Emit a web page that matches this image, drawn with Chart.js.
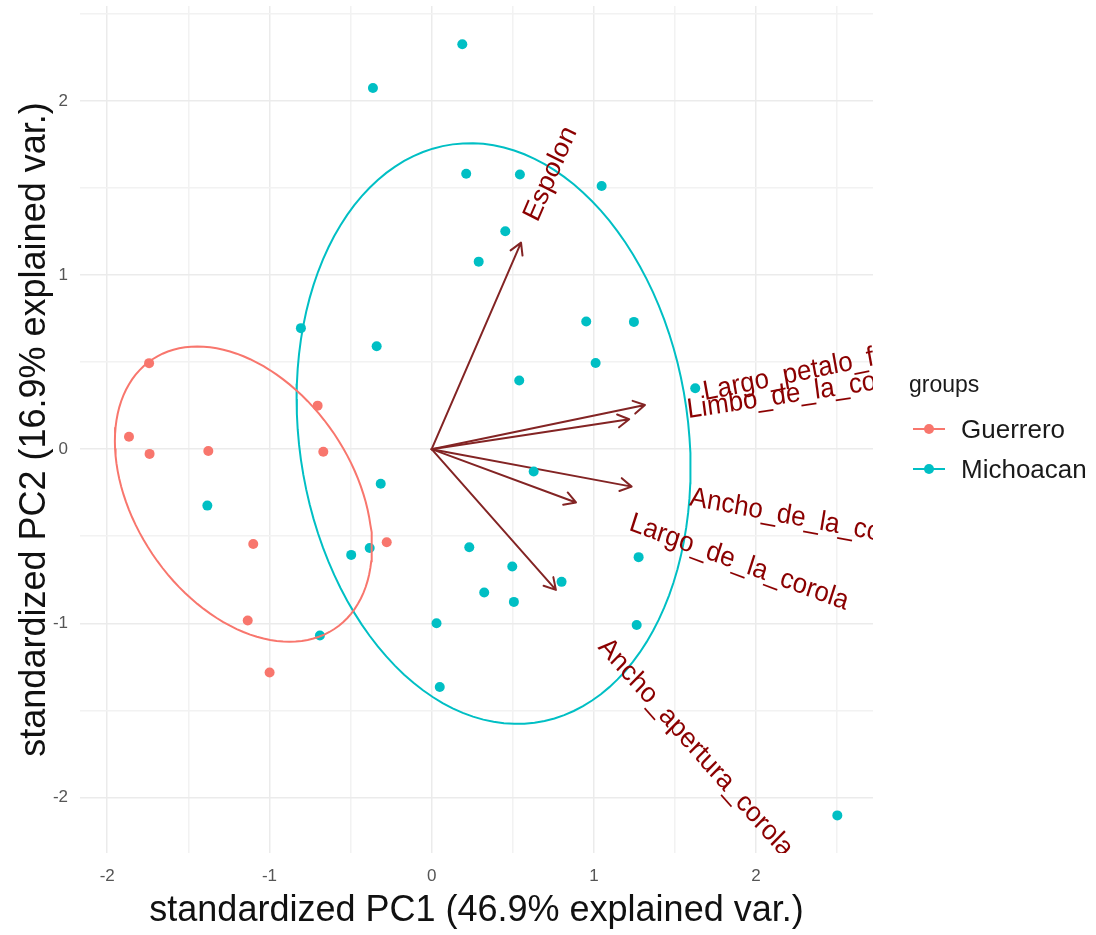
<!DOCTYPE html>
<html>
<head>
  <meta charset="UTF-8" />
  <title>PCA biplot</title>
  <style>
    html, body { margin: 0; padding: 0; background: #fff; }
    #wrap { width: 1096px; height: 935px; }
  </style>
</head>
<body>
  <div id="wrap"><canvas id="biplot"></canvas></div>
  <script src="https://cdn.jsdelivr.net/npm/chart.js"></script>
  <script>
    // scores on the first two standardized components
    const guerreroX = [-1.742, -1.866, -1.739, -1.377, -0.703, -0.668, -1.100, -0.277, -1.134, -0.999];
    const guerreroY = [0.494, 0.071, -0.027, -0.010, 0.250, -0.015, -0.545, -0.534, -0.984, -1.282];

    const michoacanX = [-0.806, -0.339, -0.314, -1.383, -0.496, -0.382, -0.689, 0.030, 0.050, 0.189,
                        -0.362, 0.213, 0.544, 1.048, 0.454, 0.290, 0.953, 1.247, 1.011, 0.540,
                        1.625, 0.629, 0.232, 0.497, 0.324, 0.507, 0.801, 1.276, 1.264, 2.501];
    const michoacanY = [0.695, 0.591, -0.199, -0.324, -0.607, -0.568, -1.070, -1.000, -1.366, 2.325,
                        2.074, 1.582, 1.577, 1.511, 1.251, 1.077, 0.733, 0.731, 0.495, 0.394,
                        0.350, -0.128, -0.563, -0.674, -0.823, -0.877, -0.762, -0.620, -1.010, -2.103];

    // variable loadings (arrow tips)
    const varNames = ['Espolon', 'Largo_petalo_frontal', 'Limbo_de_la_corola', 'Ancho_de_la_corola', 'Largo_de_la_corola', 'Ancho_apertura_corola'];
    const varX = [0.551, 1.315, 1.218, 1.233, 0.890, 0.766];
    const varY = [1.186, 0.254, 0.172, -0.215, -0.306, -0.808];

    const groupNames = ['Guerrero', 'Michoacan'];
    const groupColors = ['#F8766D', '#00BFC4'];

    const FONT = '"Liberation Sans", Arial, sans-serif';

    const toPoints = (xs, ys) => xs.map((x, i) => ({ x: x, y: ys[i] }));

    // normal data ellipse (68%) from the group's covariance, like ggbiplot does
    function dataEllipse(xs, ys) {
      const n = xs.length;
      const mx = xs.reduce((a, b) => a + b, 0) / n;
      const my = ys.reduce((a, b) => a + b, 0) / n;
      let sxx = 0, syy = 0, sxy = 0;
      for (let i = 0; i < n; i++) {
        sxx += (xs[i] - mx) ** 2;
        syy += (ys[i] - my) ** 2;
        sxy += (xs[i] - mx) * (ys[i] - my);
      }
      sxx /= n - 1; syy /= n - 1; sxy /= n - 1;
      const a = Math.sqrt(sxx), b = sxy / a, c = Math.sqrt(syy - b * b);
      const ed = Math.sqrt(-2 * Math.log(1 - 0.68));
      const pts = [];
      for (let k = 0; k <= 120; k++) {
        const t = -Math.PI + 2 * Math.PI * k / 120;
        pts.push({ x: mx + ed * a * Math.cos(t), y: my + ed * (b * Math.cos(t) + c * Math.sin(t)) });
      }
      return pts;
    }

    const arrowsPlugin = {
      id: 'arrows',
      beforeDatasetsDraw(chart) {
        const { ctx, scales: { x, y } } = chart;
        const x0 = x.getPixelForValue(0), y0 = y.getPixelForValue(0);
        ctx.save();
        ctx.strokeStyle = '#832424';
        ctx.lineWidth = 2;
        ctx.lineCap = 'round';
        ctx.lineJoin = 'round';
        varNames.forEach((name, i) => {
          const x1 = x.getPixelForValue(varX[i]), y1 = y.getPixelForValue(varY[i]);
          const ang = Math.atan2(y1 - y0, x1 - x0);
          const head = 13, spread = Math.PI / 6;
          ctx.beginPath();
          ctx.moveTo(x0, y0);
          ctx.lineTo(x1, y1);
          ctx.moveTo(x1 - head * Math.cos(ang - spread), y1 - head * Math.sin(ang - spread));
          ctx.lineTo(x1, y1);
          ctx.lineTo(x1 - head * Math.cos(ang + spread), y1 - head * Math.sin(ang + spread));
          ctx.stroke();
        });
        ctx.restore();
      },
      afterDatasetsDraw(chart) {
        const { ctx, chartArea, scales: { x, y } } = chart;
        const kx = x.getPixelForValue(1) - x.getPixelForValue(0);
        const ky = y.getPixelForValue(0) - y.getPixelForValue(1);
        const sy = ky / kx;
        ctx.save();
        ctx.beginPath();
        ctx.rect(chartArea.left, chartArea.top, chartArea.right - chartArea.left, chartArea.bottom - chartArea.top);
        ctx.clip();
        ctx.fillStyle = '#8B0000';
        ctx.font = '26px ' + FONT;
        ctx.textBaseline = 'middle';
        varNames.forEach((name, i) => {
          const w = ctx.measureText(name).width;
          const theta = Math.atan(varY[i] / varX[i]);
          const hj = (1 - 1.5 * Math.sign(varX[i])) / 2;
          ctx.save();
          ctx.translate(x.getPixelForValue(varX[i]), y.getPixelForValue(varY[i]));
          ctx.scale(1, sy);
          ctx.rotate(-theta);
          ctx.textAlign = 'left';
          ctx.fillText(name, -hj * w, 0);
          ctx.restore();
        });
        ctx.restore();
      },
      afterDraw(chart) {
        const ctx = chart.ctx;
        ctx.save();
        ctx.fillStyle = '#1a1a1a';
        ctx.textBaseline = 'middle';
        ctx.textAlign = 'left';
        ctx.font = '23px ' + FONT;
        ctx.fillText('groups', 909, 386);
        ctx.font = '26px ' + FONT;
        groupNames.forEach((g, i) => {
          const cy = 429 + i * 40;
          ctx.strokeStyle = groupColors[i];
          ctx.lineWidth = 2;
          ctx.beginPath();
          ctx.moveTo(913, cy);
          ctx.lineTo(945, cy);
          ctx.stroke();
          ctx.fillStyle = groupColors[i];
          ctx.beginPath();
          ctx.arc(929, cy, 5, 0, Math.PI * 2);
          ctx.fill();
          ctx.fillStyle = '#1a1a1a';
          ctx.fillText(g, 961, cy + 2);
        });
        ctx.restore();
      }
    };

    const gridColor = ctx => Number.isInteger(ctx.tick && ctx.tick.value) ? '#ebebeb' : '#f2f2f2';

    new Chart(document.getElementById('biplot'), {
      type: 'scatter',
      data: {
        datasets: [
          { label: 'Guerrero', data: toPoints(guerreroX, guerreroY), backgroundColor: groupColors[0], borderWidth: 0, pointRadius: 5, order: 2 },
          { label: 'Michoacan', data: toPoints(michoacanX, michoacanY), backgroundColor: groupColors[1], borderWidth: 0, pointRadius: 5, order: 2 },
          { label: 'Guerrero ellipse', data: dataEllipse(guerreroX, guerreroY), showLine: true, borderColor: groupColors[0], borderWidth: 2, pointRadius: 0, fill: false, order: 1 },
          { label: 'Michoacan ellipse', data: dataEllipse(michoacanX, michoacanY), showLine: true, borderColor: groupColors[1], borderWidth: 2, pointRadius: 0, fill: false, order: 1 }
        ]
      },
      options: {
        responsive: true,
        maintainAspectRatio: false,
        animation: false,
        layout: { padding: { left: 0, right: 223, top: 6, bottom: 0 } },
        plugins: { legend: { display: false }, tooltip: { enabled: false } },
        scales: {
          x: {
            type: 'linear',
            min: -2.168, max: 2.721,
            afterFit: s => { s.height = 82; s.paddingLeft = 0; s.paddingRight = 0; },
            border: { display: false },
            grid: { color: gridColor, lineWidth: 1.5, drawTicks: false },
            ticks: {
              stepSize: 0.5, includeBounds: false, autoSkip: false, maxRotation: 0, padding: 13,
              color: '#555', font: { family: FONT, size: 17 },
              callback: v => Number.isInteger(v) ? String(v) : ''
            },
            title: { display: true, text: 'standardized PC1 (46.9% explained var.)', color: '#111', font: { family: FONT, size: 36 }, padding: { top: 0, bottom: 2 } }
          },
          y: {
            type: 'linear',
            min: -2.319, max: 2.545,
            afterFit: s => { s.width = 80; s.paddingTop = 0; s.paddingBottom = 0; },
            border: { display: false },
            grid: { color: gridColor, lineWidth: 1.5, drawTicks: false },
            ticks: {
              stepSize: 0.5, includeBounds: false, autoSkip: false, padding: 12,
              color: '#555', font: { family: FONT, size: 17 },
              callback: v => Number.isInteger(v) ? String(v) : ''
            },
            title: { display: true, text: 'standardized PC2 (16.9% explained var.)', color: '#111', font: { family: FONT, size: 36 }, padding: { top: 13, bottom: 0 } }
          }
        }
      },
      plugins: [arrowsPlugin]
    });
  </script>
</body>
</html>
